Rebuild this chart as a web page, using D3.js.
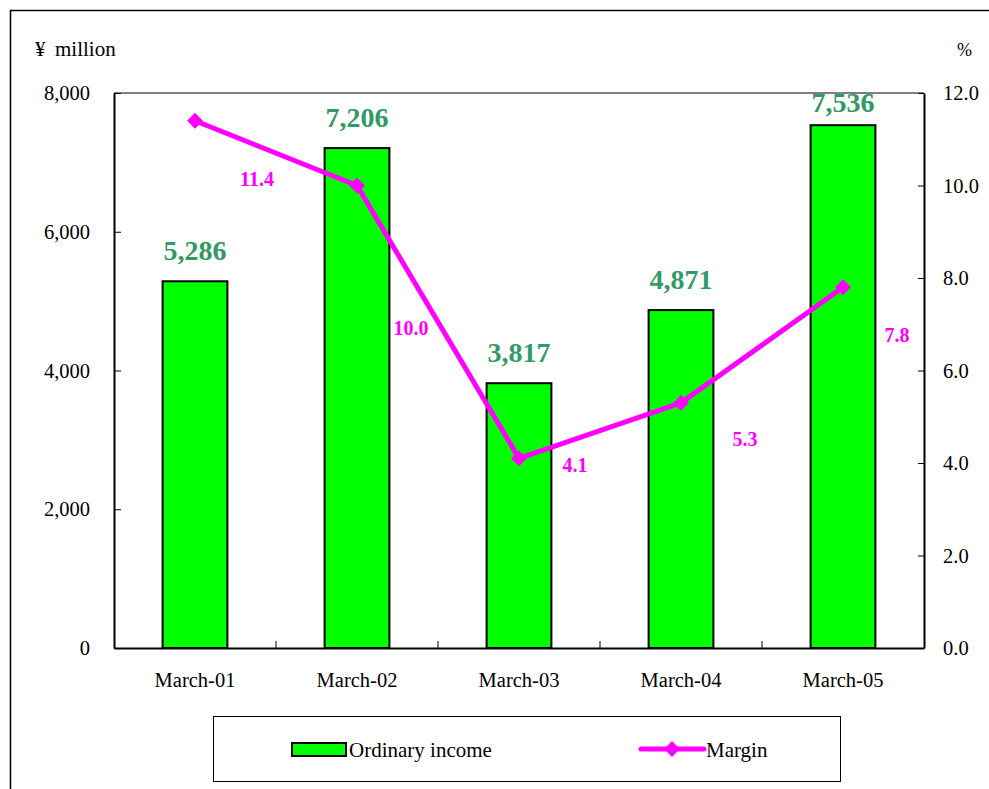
<!DOCTYPE html>
<html><head><meta charset="utf-8">
<script src="https://cdn.jsdelivr.net/npm/d3@7"></script>
<style>body{margin:0;background:#fff}svg{display:block}text{font-family:"Liberation Serif","Times New Roman",serif}</style>
</head><body>
<script>
const categories = ["March-01","March-02","March-03","March-04","March-05"];
const incomeValues = [5286, 7206, 3817, 4871, 7536];
const marginValues = [11.4, 10.0, 4.1, 5.3, 7.8];
const leftTicks = [0, 2000, 4000, 6000, 8000];
const rightTicks = [0, 2, 4, 6, 8, 10, 12];
const seriesNames = ["Ordinary income", "Margin"];
// layout only: pixel offsets of margin labels from their points (centre x, baseline y)
const marginLabelOffsets = [[62,65],[54,149],[56,14],[64,43],[54,55]];

const W = 989, H = 789;
const plot = {l:114, r:924, t:93, b:648};
const svg = d3.select("body").append("svg").attr("width",W).attr("height",H);

svg.append("rect").attr("x",10.5).attr("y",10.5).attr("width",W).attr("height",H)
  .attr("fill","#fff").attr("stroke","#000").attr("stroke-width",1.5);

const x = d3.scaleBand().domain(categories).range([plot.l, plot.r]).padding(0);
const yL = d3.scaleLinear().domain([0,8000]).range([plot.b, plot.t]);
const yR = d3.scaleLinear().domain([0,12]).range([plot.b, plot.t]);
const fmtL = d3.format(",");
const fmtR = d3.format(".1f");

// plot area top border (grey)
svg.append("line").attr("x1",plot.l).attr("x2",plot.r).attr("y1",plot.t).attr("y2",plot.t)
  .attr("stroke","#808080").attr("stroke-width",2);

// bars
const bw = x.bandwidth()*0.4;
svg.append("g").selectAll("rect").data(incomeValues).join("rect")
  .attr("x",(d,i)=>x(categories[i])+x.bandwidth()/2-bw/2)
  .attr("y",d=>yL(d)).attr("width",bw).attr("height",d=>plot.b-yL(d))
  .attr("fill","#00FF00").attr("stroke","#000").attr("stroke-width",2);

// axes
const axL = svg.append("g").attr("transform",`translate(${plot.l},0)`)
  .call(d3.axisLeft(yL).tickValues(leftTicks).tickFormat(fmtL).tickSizeInner(-7).tickSizeOuter(0).tickPadding(24));
const axR = svg.append("g").attr("transform",`translate(${plot.r},0)`)
  .call(d3.axisRight(yR).tickValues(rightTicks).tickFormat(fmtR).tickSizeInner(-6).tickSizeOuter(0).tickPadding(19));
const axB = svg.append("g").attr("transform",`translate(0,${plot.b})`)
  .call(d3.axisBottom(x).tickSize(0).tickPadding(24));
// category boundary ticks
svg.append("g").selectAll("line").data(categories.slice(1)).join("line")
  .attr("x1",d=>x(d)).attr("x2",d=>x(d)).attr("y1",plot.b).attr("y2",plot.b-7)
  .attr("stroke","#000").attr("stroke-width",1);
[axL,axR,axB].forEach(a=>{
  a.select(".domain").attr("stroke","#000").attr("stroke-width",2);
  a.selectAll(".tick line").attr("stroke","#000").attr("stroke-width",1);
  a.selectAll("text").attr("font-size",20.5).attr("fill","#000")
    .attr("font-family","'Liberation Serif','Times New Roman',serif");
});
axR.selectAll(".tick text").attr("x",19).attr("text-anchor","start");
axB.selectAll("text").attr("dy","0.71em");

// axis titles
const t1 = svg.append("text").attr("y",56).attr("font-size",21);
t1.append("tspan").attr("x",35).text("¥");
t1.append("tspan").attr("x",55).text("million");
svg.append("text").attr("x",957).attr("y",56).attr("font-size",18).text("%");

// bar labels
const capH = 28*0.68;
svg.append("g").selectAll("text").data(incomeValues).join("text")
  .attr("x",(d,i)=>x(categories[i])+x.bandwidth()/2)
  .attr("y",d=>Math.max(yL(d)-21, plot.t+capH))
  .attr("text-anchor","middle").attr("font-size",28).attr("font-weight","bold")
  .attr("fill","#339966").text(d=>fmtL(d));

// margin line
const cx = (i)=>x(categories[i])+x.bandwidth()/2;
svg.append("path").datum(marginValues)
  .attr("d",d3.line().x((d,i)=>cx(i)).y(d=>yR(d)))
  .attr("fill","none").attr("stroke","#FF00FF").attr("stroke-width",5).attr("stroke-linejoin","round");
const diamond = d3.symbol().type(d3.symbolDiamond2).size(160);
svg.append("g").selectAll("path").data(marginValues).join("path")
  .attr("transform",(d,i)=>`translate(${cx(i)},${yR(d)})`)
  .attr("d",diamond).attr("fill","#FF00FF");

svg.append("g").selectAll("text").data(marginValues).join("text")
  .attr("x",(d,i)=>cx(i)+marginLabelOffsets[i][0])
  .attr("y",(d,i)=>yR(d)+marginLabelOffsets[i][1])
  .attr("text-anchor","middle").attr("font-size",20).attr("font-weight","bold")
  .attr("fill","#FF00FF").text(d=>fmtR(d));

// legend
const lg = svg.append("g");
lg.append("rect").attr("x",213.5).attr("y",716.5).attr("width",627).attr("height",65)
  .attr("fill","#fff").attr("stroke","#000").attr("stroke-width",1);
lg.append("rect").attr("x",292).attr("y",743).attr("width",54).attr("height",13)
  .attr("fill","#00FF00").attr("stroke","#000").attr("stroke-width",2);
lg.append("text").attr("x",349).attr("y",757).attr("font-size",21).text(seriesNames[0]);
lg.append("line").attr("x1",641).attr("x2",704).attr("y1",749).attr("y2",749)
  .attr("stroke","#FF00FF").attr("stroke-width",5).attr("stroke-linecap","round");
lg.append("path").attr("transform","translate(672,749)").attr("d",diamond).attr("fill","#FF00FF");
lg.append("text").attr("x",706).attr("y",757).attr("font-size",21).text(seriesNames[1]);
</script>
</body></html>
